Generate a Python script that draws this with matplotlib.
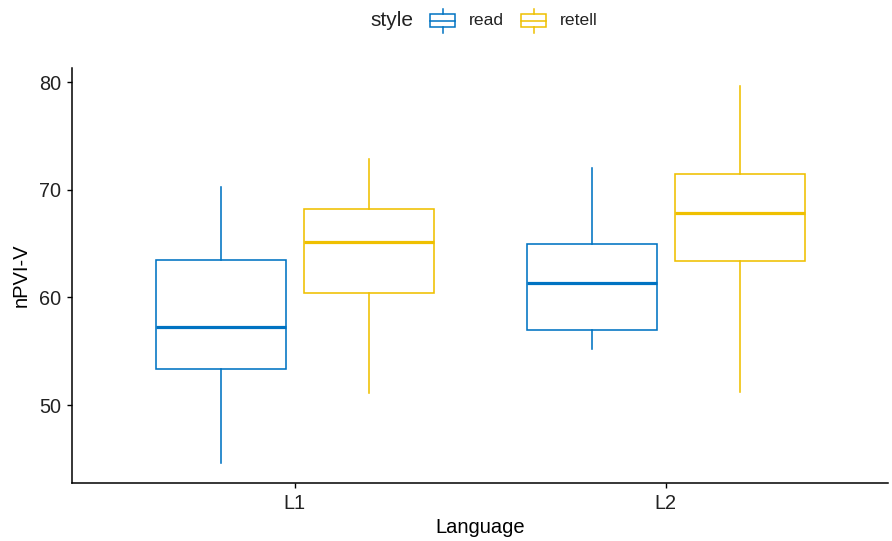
import matplotlib
matplotlib.use('Agg')
import matplotlib.pyplot as plt
from matplotlib.patches import Rectangle
from matplotlib.lines import Line2D
from matplotlib.offsetbox import (AnchoredOffsetbox, DrawingArea, HPacker,
                                  TextArea)

plt.rcParams['font.family'] = ['Liberation Sans', 'DejaVu Sans']

# Five-number summaries of nPVI-V by language and speaking style
languages = ['L1', 'L2']
styles = ['read', 'retell']
colors = {'read': '#0073C2', 'retell': '#EFC000'}

read_low = [44.6, 55.2]
read_q1 = [53.35, 57.0]
read_med = [57.25, 61.3]
read_q3 = [63.5, 65.0]
read_high = [70.25, 72.05]

retell_low = [51.1, 51.25]
retell_q1 = [60.45, 63.4]
retell_med = [65.15, 67.8]
retell_q3 = [68.25, 71.5]
retell_high = [72.9, 79.6]

summaries = {
    'read': (read_low, read_q1, read_med, read_q3, read_high),
    'retell': (retell_low, retell_q1, retell_med, retell_q3, retell_high),
}

PX = 0.72  # pixels -> points at 100 dpi


def box_key(color):
    """Small boxplot glyph used as a legend key."""
    w, h = 27 * PX, 24 * PX
    bh = 13 * PX
    da = DrawingArea(w, h, 0, 0)
    by = (h - bh) / 2
    da.add_artist(Rectangle((0.5, by), w - 1, bh, facecolor='white',
                            edgecolor=color, linewidth=1.1))
    da.add_artist(Line2D([0.5, w - 0.5], [h / 2, h / 2], color=color,
                         linewidth=1.1))
    da.add_artist(Line2D([w / 2, w / 2], [by + bh, h], color=color,
                         linewidth=1.1))
    da.add_artist(Line2D([w / 2, w / 2], [0, by], color=color,
                         linewidth=1.1))
    return da


fig = plt.figure(figsize=(8.92, 5.41), dpi=100)
ax = fig.add_axes([0.081, 0.107, 0.915, 0.767])

offsets = {'read': -0.2, 'retell': 0.2}
for style in styles:
    low, q1, med, q3, high = summaries[style]
    stats = []
    for i in range(len(languages)):
        stats.append({'whislo': low[i], 'q1': q1[i], 'med': med[i],
                      'q3': q3[i], 'whishi': high[i], 'fliers': []})
    c = colors[style]
    pos = [i + 1 + offsets[style] for i in range(len(languages))]
    ax.bxp(stats, positions=pos, widths=0.35, showcaps=False,
           patch_artist=True,
           boxprops=dict(facecolor='white', edgecolor=c, linewidth=1.15),
           whiskerprops=dict(color=c, linewidth=1.15),
           medianprops=dict(color=c, linewidth=2.3, solid_capstyle='butt'))

ax.set_xlim(0.4, 2.6)
ax.set_ylim(42.75, 81.3)
ax.set_xticks([1, 2])
ax.set_xticklabels(languages)
ax.set_yticks([50, 60, 70, 80])
ax.tick_params(axis='both', labelsize=14.3, colors='black', length=3.6,
               width=1.0, pad=4.5, labelcolor='#222222')
ax.set_xlabel('Language', fontsize=14.5, labelpad=3)
ax.set_ylabel('nPVI-V', fontsize=14.5, labelpad=6)

for side in ['top', 'right']:
    ax.spines[side].set_visible(False)
for side in ['left', 'bottom']:
    ax.spines[side].set_linewidth(1.1)
    ax.spines[side].set_color('black')

# legend row above the panel: title followed by the two keys
entries = []
for style in styles:
    label = TextArea(style, textprops=dict(fontsize=12.6, color='#222222'))
    entries.append(HPacker(children=[box_key(colors[style]), label],
                           align='center', pad=0, sep=13 * PX))
title = TextArea('style', textprops=dict(fontsize=15, color='#222222'))
row = HPacker(children=[title] + entries, align='center', pad=0,
              sep=16 * PX)
anchored = AnchoredOffsetbox(loc='center', child=row, pad=0, frameon=False,
                             bbox_to_anchor=(0.5426, 0.962),
                             bbox_transform=fig.transFigure, borderpad=0)
fig.add_artist(anchored)

fig.savefig('out.png', dpi=100, facecolor='white')
